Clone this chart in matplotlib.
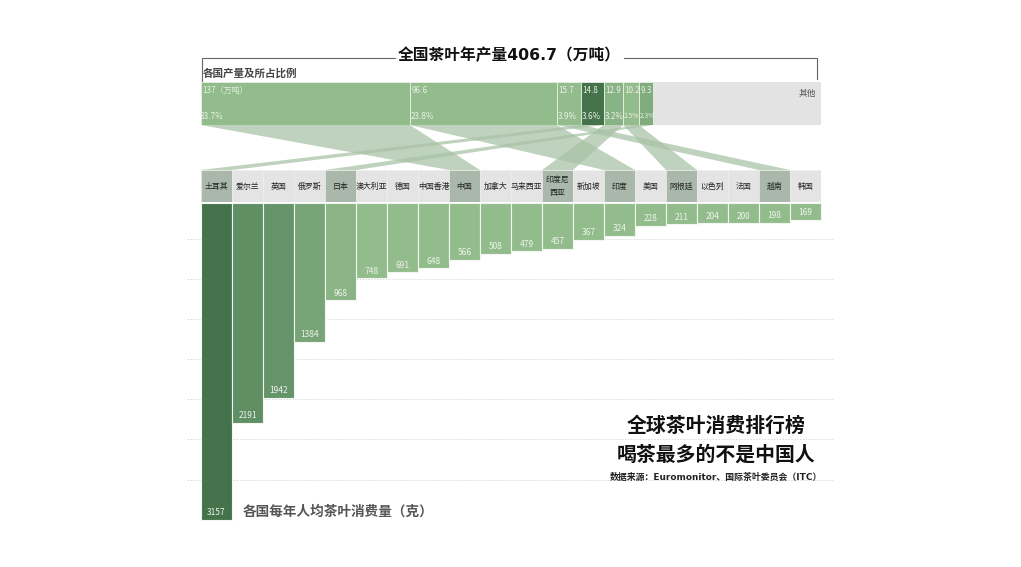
import matplotlib
matplotlib.use("Agg")
import matplotlib.pyplot as plt
from matplotlib.patches import Polygon

plt.rcParams['font.family'] = ['Noto Sans CJK SC', 'DejaVu Sans']
WIDE_LATIN = ['DejaVu Sans', 'Noto Sans CJK SC']

W, H = 1021, 567

# consumption per person, grams
countries = ["土耳其", "爱尔兰", "英国", "俄罗斯", "日本", "澳大利亚", "德国", "中国香港", "中国", "加拿大",
             "马来西亚", "印度尼\n西亚", "新加坡", "印度", "美国", "阿根廷", "以色列", "法国", "越南", "韩国"]
consumption = [3157, 2191, 1942, 1384, 968, 748, 691, 648, 566, 508,
               479, 457, 367, 324, 228, 211, 204, 200, 198, 169]
bar_colors = ["#44724a", "#5f8f62", "#65936a", "#78a578", "#8ab486"] + ["#93bc8c"] * 15

# production, 10k tons
total_output = 406.7
output = [137, 96.6, 15.7, 14.8, 12.9, 10.2, 9.3]
output_pct = ["33.7%", "23.8%", "3.9%", "3.6%", "3.2%", "2.5%", "2.3%"]
output_labels = ["137（万吨）", "96.6", "15.7", "14.8", "12.9", "10.2", "9.3"]
output_targets = ["中国", "印度", "越南", "土耳其", "印度尼\n西亚", "阿根廷", "日本"]
output_colors = ["#93bc8c", "#93bc8c", "#93bc8c", "#44724a", "#88b384", "#93bc8c", "#7fab7d"]

grid_levels = [358, 757, 1155, 1554, 1952, 2351, 2759]

COL_L, COL_R = 201, 821


def add_axes_px(x0, y0, x1, y1):
    # pixel box, y from the top of the image
    ax = fig.add_axes([x0 / W, 1 - y1 / H, (x1 - x0) / W, (y1 - y0) / H])
    ax.axis("off")
    return ax


def text_px(x, y, s, **kw):
    kw.setdefault("va", "center")
    fig.text(x / W, 1 - y / H, s, **kw)


def line_px(xs, ys, **kw):
    fig.add_artist(plt.Line2D([x / W for x in xs], [1 - y / H for y in ys], **kw))


fig = plt.figure(figsize=(W / 100, H / 100), dpi=100, facecolor="white")

# --- bars ---
col_w = (COL_R - COL_L) / len(countries)
ax_bar = add_axes_px(187, 203, 833, 521)
ax_bar.set_xlim((187 - COL_L) / col_w, (833 - COL_L) / col_w)
ax_bar.set_ylim(3167, 0)
ax_bar.hlines(grid_levels, (187 - COL_L) / col_w, (833 - COL_L) / col_w,
              color="#dadada", lw=0.7, linestyles=(0, (1.5, 1.5)), zorder=1)
xs = [i + 0.5 for i in range(len(countries))]
ax_bar.bar(xs, consumption, width=1, color=bar_colors, edgecolor="#f2f6f0", lw=0.8, zorder=2)
for x, v in zip(xs, consumption):
    ax_bar.text(x, v - 70, str(v), color="#eef3ec", fontsize=6, ha="center", va="center", zorder=3)

# --- country headers ---
ax_head = add_axes_px(COL_L, 170, COL_R, 202)
ax_head.set_xlim(0, len(countries))
ax_head.set_ylim(0, 1)
for i, name in enumerate(countries):
    dark = name in output_targets
    ax_head.bar(i + 0.5, 1, width=1, bottom=0, color="#a9b8aa" if dark else "#e4e4e4",
                edgecolor="#efefef", lw=0.4)
    ax_head.text(i + 0.5, 0.5, name, fontsize=5.7, color="#222222", ha="center", va="center",
                 linespacing=1.5)

# --- ribbons between the strip and the headers ---
ax_rib = add_axes_px(COL_L, 125, COL_R, 170)
ax_rib.set_xlim(0, total_output)
ax_rib.set_ylim(0, 1)
per_col = total_output / len(countries)
start = 0
for val, target in zip(output, output_targets):
    col = countries.index(target)
    ax_rib.add_patch(Polygon([(start, 1), (start + val, 1),
                              ((col + 1) * per_col, 0), (col * per_col, 0)],
                             closed=True, facecolor="#a9c3a7", alpha=0.75, edgecolor="none"))
    start += val

# --- production strip ---
ax_top = add_axes_px(COL_L, 82, COL_R, 125)
ax_top.set_xlim(0, total_output)
ax_top.set_ylim(1, 0)
ax_top.barh(0.5, total_output, height=1, color="#e3e3e3")
start = 0
for val, col, lab, pct in zip(output, output_colors, output_labels, output_pct):
    ax_top.barh(0.5, val, left=start, height=1, color=col, edgecolor="#e9f1e6", lw=0.6)
    ax_top.text(start + 1, 0.2, lab, color="#e9f0e6", fontsize=5.8, va="center", ha="left")
    ax_top.text(start + (-0.6 if val > 100 else 0.4), 0.8, pct, color="#e9f0e6",
                fontsize=5.8 if val > 11 else 4.8, va="center", ha="left", clip_on=False)
    start += val
text_px(816, 93, "其他", fontsize=6.3, color="#555555", ha="right")

# --- titles and bracket ---
line_px([202, 202, 395], [81, 57.5, 57.5], color="#666666", lw=0.8)
line_px([624, 816.5, 816.5], [57.5, 57.5, 79], color="#666666", lw=0.8)
text_px(509, 55, "全国茶叶年产量406.7（万吨）", fontsize=11.3, fontweight="bold", color="#111111",
        ha="center", family=WIDE_LATIN)
text_px(203, 73, "各国产量及所占比例", fontsize=7.6, fontweight="bold", color="#444444", ha="left")
text_px(243, 512, "各国每年人均茶叶消费量（克）", fontsize=9.8, fontweight="bold", color="#555555", ha="left")
text_px(716, 425, "全球茶叶消费排行榜", fontsize=14.3, fontweight="bold", color="#111111", ha="center")
text_px(716, 454, "喝茶最多的不是中国人", fontsize=14.3, fontweight="bold", color="#111111", ha="center")
text_px(716, 477, "数据来源：Euromonitor、国际茶叶委员会（ITC）", fontsize=6.4, fontweight="bold",
        color="#222222", ha="center", family=WIDE_LATIN)

fig.savefig("out.png", dpi=100, facecolor="white")
